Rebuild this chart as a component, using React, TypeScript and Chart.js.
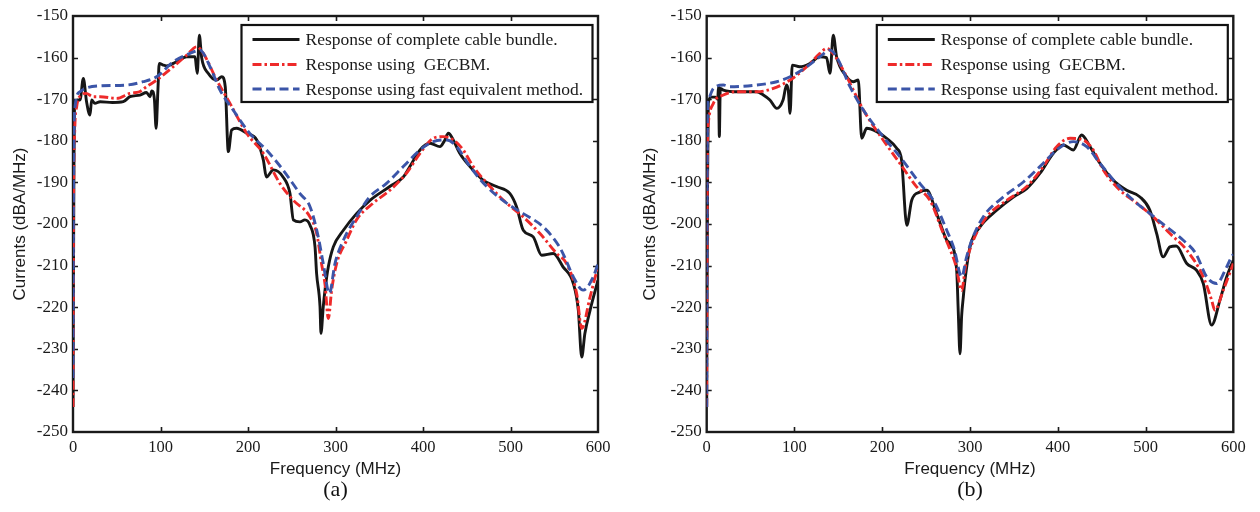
import React, { useEffect, useRef } from "react";
import { Chart, registerables } from "chart.js";

Chart.register(...registerables);

// ---------- shared axis / legend text ----------
const X_TICKS = [0, 100, 200, 300, 400, 500, 600];
const Y_TICKS = [-250, -240, -230, -220, -210, -200, -190, -180, -170, -160, -150];
const X_TITLE = "Frequency (MHz)";
const Y_TITLE = "Currents (dBA/MHz)";
const SERIES_LABELS = [
  "Response of complete cable bundle.",
  "Response using  GECBM.",
  "Response using fast equivalent method.",
];
const CAPTIONS = ["(a)", "(b)"];

// ---------- panel (a) ----------
const aBlackF = [0, 1, 2.3, 6, 8, 11.8, 15.5, 19.4, 21.3, 25, 31, 45, 57.5, 65, 76.6, 84, 88, 90, 93, 95, 97, 98.6, 103, 107, 114.6, 122, 130, 139.4, 142, 144.4, 147, 154.7, 164.2, 170, 174, 177.5, 181.3, 187, 198.5, 210, 217.5, 221, 229, 240, 248, 251.8, 259.4, 265, 270.9, 276.6, 278.4, 282.3, 283.4, 286, 288, 291.8, 297.5, 309, 324, 339.4, 362, 377.5, 385, 396.6, 408, 419.4, 424, 429, 434.6, 442, 453.7, 469, 484, 499.4, 507, 514.6, 526, 535.6, 549, 560, 571.8, 577.5, 581.4, 585, 591, 600];
const aBlackV = [-244, -190, -170.5, -170.2, -170.2, -165, -170.6, -173.8, -170.2, -171, -170.6, -170.8, -170.6, -169.4, -169, -168.4, -169.4, -168, -170, -177, -168, -161.4, -161.8, -162, -161.4, -160.5, -159.8, -159.8, -163.8, -154.6, -160, -163.8, -165.4, -164.6, -167, -182.6, -177.4, -177, -178.2, -179.8, -184.6, -188.7, -187, -188.7, -192.7, -199, -199.5, -199, -200.3, -205.5, -211.9, -219.9, -226.3, -219.9, -215.9, -210.3, -205.5, -201.5, -197.5, -194.3, -191, -188.7, -186.2, -182.2, -180.6, -181.4, -180.2, -178.2, -179.8, -183, -186.2, -189.5, -191, -192.7, -195.9, -201.5, -203.1, -207.5, -207.1, -210.3, -214.3, -220.7, -232, -226.3, -220.7, -213.5];

const aRedF = [0, 0.5, 2, 4.2, 9.9, 15, 23, 31, 50, 65, 76, 84, 95.6, 114.6, 130, 141.4, 149, 164.2, 179.4, 198.5, 217.5, 236.6, 251.8, 270.9, 278.5, 284, 288, 291.8, 295.6, 301.3, 312.8, 324, 343, 362, 381, 396.6, 411.8, 423, 434.6, 446, 457.5, 476.6, 495.6, 514.6, 533.7, 552.8, 564, 575.6, 581.4, 591, 598, 600];
const aRedV = [-244, -200, -177.4, -171.8, -169, -168.6, -169.4, -169.4, -169.8, -168.6, -168.2, -167, -165.4, -162.2, -159.4, -157.4, -159, -165.4, -171, -178.2, -183, -190.3, -194.3, -198.3, -202.3, -209.5, -214.5, -222.7, -215.9, -209.5, -203.9, -199, -195, -191.9, -187.8, -183, -179.4, -179, -179.8, -182.2, -186.2, -191, -195, -198.3, -202.3, -207.1, -209.5, -216.7, -225.1, -217.5, -211.9, -211];

const aBlueF = [0, 0.5, 2.3, 8, 13.7, 31, 61, 80, 95.6, 114.6, 133.7, 145, 156.6, 168, 183, 202, 221, 240, 259.4, 271, 280.3, 286, 293, 299.4, 309, 324, 339, 358, 377.5, 396.6, 411.8, 427, 438.5, 453.7, 472.8, 495.6, 514.6, 537.5, 556, 562, 571.8, 583, 594.6, 600];
const aBlueV = [-237, -195, -171.8, -168.2, -167.4, -166.8, -166.6, -165.8, -164.6, -161, -159, -158.2, -162.2, -167.8, -172.6, -178.2, -182.2, -187, -192.7, -195.9, -203.1, -209.5, -216.7, -209.5, -203.9, -198.3, -193.5, -190.3, -186.2, -182.2, -180.2, -179.8, -181.4, -186.2, -191, -195, -197.5, -200.7, -205.5, -208, -212.7, -215.9, -212.7, -209.5];

// ---------- panel (b) ----------
const bBlackF = [0, 1, 1.8, 5, 10, 12.5, 13.5, 14.4, 15.5, 19, 35, 57, 64.5, 72, 80, 87, 91, 93, 95, 97.5, 106, 117.6, 128.9, 136.5, 140.5, 144.2, 148, 159.5, 167, 172.7, 176.6, 182.3, 193.7, 205, 216.5, 222, 228, 233.6, 243, 250.7, 262, 273.5, 277.2, 284.8, 286.7, 288.6, 290.5, 292.4, 294.3, 300, 311.4, 330.4, 349.4, 364.6, 379.8, 395, 406.3, 417.7, 427.2, 436.7, 448, 463.3, 478.5, 493.7, 505, 512.7, 520, 527.8, 535, 547, 558, 565.8, 575.3, 584.8, 592.5, 600];
const bBlackV = [-244, -190, -171, -169.5, -169.5, -170, -167, -179, -167.4, -167.8, -168.2, -168.2, -169, -170.2, -172.2, -170.2, -166.6, -168, -173.4, -161.8, -162.2, -161.4, -159.8, -160, -163.8, -154.6, -159.8, -164.6, -165.8, -165.4, -179.4, -177, -177.8, -179.4, -181.8, -184.6, -200.3, -194.3, -192.3, -191.9, -197.5, -203.9, -204.7, -211.1, -221.5, -231.2, -222, -217.5, -213.5, -205.5, -200.7, -196.7, -193.5, -191.5, -187.8, -183, -181, -182.2, -178.6, -181.4, -185.4, -189.5, -191.9, -193.5, -196.7, -202.3, -207.9, -205.5, -205.3, -209.5, -211.1, -214.3, -224.3, -218.3, -212.7, -208.7];

const bRedF = [0, 0.5, 1, 1.8, 7.6, 19, 34, 57, 76, 95, 114, 129, 136.7, 144, 159.5, 178.5, 201, 220, 239, 254.4, 269.6, 277, 284, 290.5, 295, 303.8, 319, 341.8, 364.6, 383.5, 398.8, 414, 429, 440.5, 451.9, 471, 490, 508.8, 527.8, 547, 565.8, 575.3, 579, 588.6, 600];
const bRedV = [-244, -200, -180, -175.8, -171, -169, -168.2, -168.2, -167.4, -165.4, -162.2, -159, -157.8, -159, -164.6, -172.6, -179.8, -185.4, -191, -194.3, -202.3, -206, -210, -216, -210, -203.9, -198.3, -194.3, -191, -186.2, -181.4, -179.4, -179.8, -182.2, -187, -191.9, -195, -198.3, -202.3, -206.3, -212.7, -218.3, -220.7, -215.9, -209.5];

const bBlueF = [0, 0.5, 1, 1.8, 7.6, 19, 26.5, 57, 79.8, 95, 114, 129, 140.4, 148, 163.3, 178.5, 201, 220, 243, 258.2, 273.5, 282, 290.5, 296, 302, 315, 338, 360.8, 383.5, 398.8, 417.7, 432.9, 448, 467, 486, 505, 524, 543, 557, 569.7, 581, 592.5, 598, 600];
const bBlueV = [-244, -195, -172, -170.2, -167.4, -166.6, -167, -166.6, -165.8, -164.6, -162.2, -159.8, -158.2, -159.8, -167, -172.6, -179, -183.8, -190.3, -194.3, -201.5, -206, -212.7, -208, -203.9, -198.3, -193.5, -189.9, -185.4, -182.2, -180.2, -181.4, -185.4, -190.3, -194.3, -197.5, -200.7, -203.9, -207, -212.7, -214.3, -210.3, -207.9, -207.3];

// ---------- styling ----------
const COLORS = ["#161616", "#ee2a2a", "#3b55a8"];
const DASHES: number[][] = [[], [9, 3, 2.5, 3], [9, 4.5]];
const WIDTHS = [2.9, 2.9, 2.9];
const SERIF = "'Liberation Serif', 'Times New Roman', serif";
const SANS = "'Liberation Sans', Arial, sans-serif";

function pts(f: number[], v: number[]) {
  return f.map((x, i) => ({ x, y: v[i] }));
}

function makePlugins(caption: string) {
  const frame = {
    id: "frame",
    beforeDatasetsDraw(chart: any) {
      const { ctx, chartArea, scales } = chart;
      const { left, right, top, bottom } = chartArea;
      ctx.save();
      ctx.strokeStyle = "#1a1a1a";
      ctx.lineWidth = 1.6;
      const tl = 5;
      ctx.beginPath();
      for (const v of X_TICKS.slice(1, -1)) {
        const px = Math.round(scales.x.getPixelForValue(v)) + 0.5;
        ctx.moveTo(px, bottom);
        ctx.lineTo(px, bottom - tl);
        ctx.moveTo(px, top);
        ctx.lineTo(px, top + tl);
      }
      for (const v of Y_TICKS.slice(1, -1)) {
        const py = Math.round(scales.y.getPixelForValue(v)) + 0.5;
        ctx.moveTo(left, py);
        ctx.lineTo(left + tl, py);
        ctx.moveTo(right, py);
        ctx.lineTo(right - tl, py);
      }
      ctx.stroke();
      ctx.lineWidth = 2.4;
      ctx.strokeRect(left, top, right - left, bottom - top);
      ctx.restore();
    },
  };
  const legend = {
    id: "boxLegend",
    afterDatasetsDraw(chart: any) {
      const { ctx, chartArea } = chart;
      const w = 351;
      const h = 77;
      const bx = chartArea.right - 5.5 - w;
      const by = chartArea.top + 9;
      ctx.save();
      ctx.fillStyle = "#ffffff";
      ctx.fillRect(bx, by, w, h);
      ctx.strokeStyle = "#111";
      ctx.lineWidth = 2.2;
      ctx.strokeRect(bx, by, w, h);
      ctx.font = `17.5px ${SERIF}`;
      ctx.textBaseline = "middle";
      ctx.textAlign = "left";
      const rowY = [14.5, 39.5, 64];
      chart.data.datasets.forEach((ds: any, i: number) => {
        const yy = by + rowY[i];
        ctx.beginPath();
        ctx.setLineDash(DASHES[i]);
        ctx.strokeStyle = COLORS[i];
        ctx.lineWidth = WIDTHS[i];
        ctx.moveTo(bx + 11, yy);
        ctx.lineTo(bx + 58, yy);
        ctx.stroke();
        ctx.setLineDash([]);
        ctx.fillStyle = "#1a1a1a";
        ctx.fillText(ds.label, bx + 64, yy + 1);
      });
      ctx.restore();
    },
    afterDraw(chart: any) {
      const { ctx, chartArea } = chart;
      ctx.save();
      ctx.font = `22px ${SERIF}`;
      ctx.fillStyle = "#111";
      ctx.textAlign = "center";
      ctx.textBaseline = "middle";
      ctx.fillText(caption, (chartArea.left + chartArea.right) / 2, 490);
      ctx.restore();
    },
  };
  return [frame, legend];
}

function makeConfig(
  series: { f: number[]; v: number[] }[],
  caption: string,
  yWidth: number,
  padRight: number
): any {
  return {
    type: "line",
    data: {
      datasets: series.map((s, i) => ({
        label: SERIES_LABELS[i],
        data: pts(s.f, s.v),
        borderColor: COLORS[i],
        borderWidth: WIDTHS[i],
        borderDash: DASHES[i],
        pointRadius: 0,
        fill: false,
        cubicInterpolationMode: "monotone",
        order: 3 - i,
      })),
    },
    options: {
      responsive: false,
      animation: false,
      events: [],
      layout: { padding: { left: 0, right: padRight, top: 16, bottom: 0 } },
      plugins: { legend: { display: false }, tooltip: { enabled: false } },
      scales: {
        x: {
          type: "linear",
          min: 0,
          max: 600,
          afterFit(s: any) {
            s.height = 80;
          },
          afterBuildTicks(s: any) {
            s.ticks = X_TICKS.map((value) => ({ value }));
          },
          grid: { display: false, drawTicks: false },
          border: { display: false },
          ticks: {
            padding: 6,
            color: "#1a1a1a",
            maxRotation: 0,
            font: { family: SERIF, size: 16.5 },
          },
          title: {
            display: true,
            text: X_TITLE,
            color: "#1a1a1a",
            font: { family: SANS, size: 17 },
            padding: { top: 0, bottom: 32 },
          },
        },
        y: {
          type: "linear",
          min: -250,
          max: -150,
          afterFit(s: any) {
            s.width = yWidth;
          },
          afterBuildTicks(s: any) {
            s.ticks = Y_TICKS.map((value) => ({ value }));
          },
          grid: { display: false, drawTicks: false },
          border: { display: false },
          ticks: {
            padding: 5,
            color: "#1a1a1a",
            font: { family: SERIF, size: 17 },
          },
          title: {
            display: true,
            text: Y_TITLE,
            color: "#1a1a1a",
            font: { family: SANS, size: 17 },
            padding: { top: 10, bottom: 0 },
          },
        },
      },
    },
    plugins: makePlugins(caption),
  };
}

function Panel({
  series,
  caption,
  left,
  yWidth,
  padRight,
}: {
  series: { f: number[]; v: number[] }[];
  caption: string;
  left: number;
  yWidth: number;
  padRight: number;
}) {
  const ref = useRef<HTMLCanvasElement | null>(null);
  useEffect(() => {
    if (!ref.current) return;
    const chart = new Chart(ref.current, makeConfig(series, caption, yWidth, padRight));
    return () => chart.destroy();
  }, []);
  return (
    <div style={{ position: "absolute", left, top: 0, width: 630, height: 512 }}>
      <canvas ref={ref} width={630} height={512} style={{ display: "block" }} />
    </div>
  );
}

export default function App() {
  const seriesA = [
    { f: aBlackF, v: aBlackV },
    { f: aRedF, v: aRedV },
    { f: aBlueF, v: aBlueV },
  ];
  const seriesB = [
    { f: bBlackF, v: bBlackV },
    { f: bRedF, v: bRedV },
    { f: bBlueF, v: bBlueV },
  ];
  return (
    <div
      style={{
        position: "absolute",
        left: 0,
        top: 0,
        width: 1260,
        height: 512,
        background: "#ffffff",
        overflow: "hidden",
      }}
    >
      <Panel series={seriesA} caption={CAPTIONS[0]} left={0} yWidth={73} padRight={32} />
      <Panel series={seriesB} caption={CAPTIONS[1]} left={630} yWidth={76.7} padRight={26.7} />
    </div>
  );
}
